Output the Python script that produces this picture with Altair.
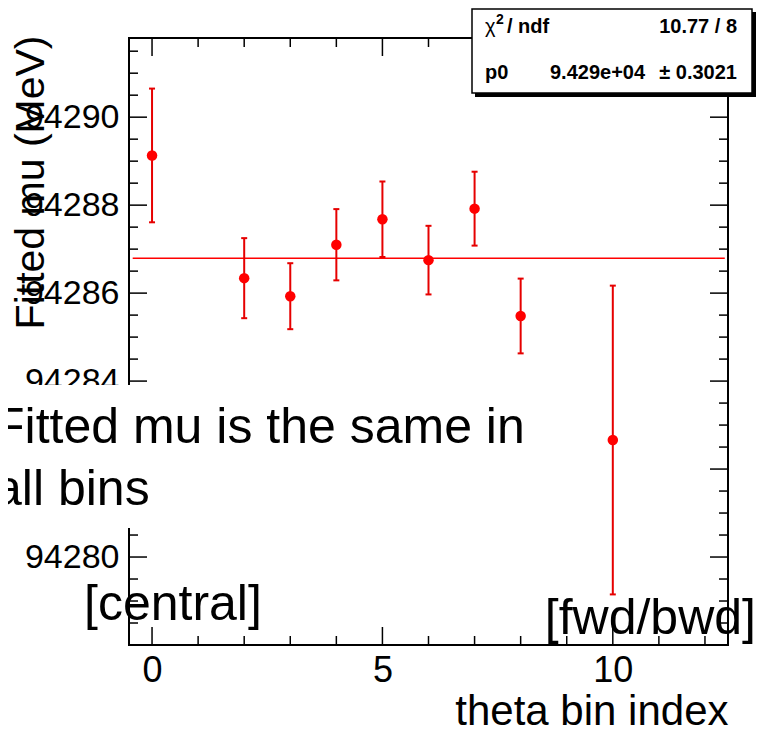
import altair as alt
import pandas as pd

# ---------------- data ----------------
bin_index = [0, 2, 3, 4, 5, 6, 7, 8, 10]
fitted_mu = [94289.13, 94286.34, 94285.93, 94287.10, 94287.68,
             94286.75, 94287.92, 94285.48, 94282.66]
mu_error = [1.52, 0.91, 0.75, 0.81, 0.86, 0.78, 0.84, 0.85, 3.51]

fit_p0 = 94286.79
fit_x_range = [-0.42, 12.43]

x_domain = [-0.5, 12.5]
y_domain = [94278.0, 94291.8]
x_label_values = [0, 5, 10]
y_label_values = [94280, 94282, 94284, 94286, 94288, 94290]
x_minor_ticks = [1, 2, 3, 4, 6, 7, 8, 9, 11, 12]
y_minor_ticks = [v for v in [94278.5 + 0.5 * i for i in range(27)]
                 if v not in y_label_values]

chi_symbol = "\u03c7"
chi_power = "2"
ndf_text = "/ ndf"
p0_label = "p0"
chi2_text = "10.77 / 8"
p0_value_text = "9.429e+04"
p0_error_text = "\u00b1 0.3021"
note_lines = ["Fitted mu is the same in", "all bins"]
region_labels = ["[central]", "[fwd/bwd]"]

# ---------------- layout ----------------
W, H = 599, 607
FONT = "Liberation Sans"
RED = "#ff0000"
MAJ, MIN = 18, 9

df = pd.DataFrame({"bin": bin_index, "mu": fitted_mu, "err": mu_error})
df["lo"] = df["mu"] - df["err"]
df["hi"] = df["mu"] + df["err"]
fit_df = pd.DataFrame({"x0": [fit_x_range[0]], "x1": [fit_x_range[1]], "p0": [fit_p0]})
one = pd.DataFrame({"d": [0]})

xs = alt.Scale(domain=x_domain, nice=False, zero=False)
ys = alt.Scale(domain=y_domain, nice=False, zero=False)

x_axis = alt.Axis(values=x_label_values, format="d", labelFontSize=36, labelFont=FONT,
                  labelColor="black", labelPadding=8, ticks=False, domain=False, grid=False,
                  labelOverlap=False, title="theta bin index", titleFontSize=42,
                  titleFont=FONT, titleFontWeight="normal", titleColor="black",
                  titleAnchor="end", titleAlign="right", titleBaseline="alphabetic",
                  titleX=W, titleY=79)
y_axis = alt.Axis(values=y_label_values, format="d", labelFontSize=34, labelFont=FONT,
                  labelColor="black", labelPadding=10, ticks=False, domain=False, grid=False,
                  labelOverlap=False, title="Fitted mu (MeV)", titleFontSize=41,
                  titleFont=FONT, titleFontWeight="normal", titleColor="black",
                  titleAngle=270, titleAlign="right", titleBaseline="alphabetic",
                  titleX=-86, titleY=-3)


def X(field):
    return alt.X(field, type="quantitative", scale=xs, axis=x_axis)


def Y(field):
    return alt.Y(field, type="quantitative", scale=ys, axis=y_axis)


def px_text(txt, x, y, size, align="left", weight="normal"):
    return alt.Chart(one).mark_text(
        text=txt, align=align, baseline="alphabetic", fontSize=size, font=FONT,
        fontWeight=weight, color="black"
    ).encode(x=alt.value(x), y=alt.value(y))


def px_rect(x1, x2, y1, y2, fill, stroke=None, sw=0, fill_opacity=1):
    kw = dict(fill=fill, fillOpacity=fill_opacity, strokeWidth=sw)
    if stroke:
        kw["stroke"] = stroke
    return alt.Chart(one).mark_rect(**kw).encode(
        x=alt.value(x1), x2=alt.value(x2), y=alt.value(y1), y2=alt.value(y2))


points = alt.Chart(df).mark_circle(size=110, color=RED, opacity=1).encode(
    x=X("bin"), y=Y("mu"))

# frame
frame = px_rect(0, W, 0, H, "white", stroke="black", sw=2, fill_opacity=0)

# inward ticks on all four sides
tick_layers = []
for vals, ln in [(y_label_values, MAJ), (y_minor_ticks, MIN)]:
    d = pd.DataFrame({"v": vals})
    tick_layers.append(alt.Chart(d).mark_rule(color="black", strokeWidth=1.5).encode(
        y=Y("v"), x=alt.value(0), x2=alt.value(ln)))
    tick_layers.append(alt.Chart(d).mark_rule(color="black", strokeWidth=1.5).encode(
        y=Y("v"), x=alt.value(W - ln), x2=alt.value(W)))
for vals, ln in [(x_label_values, MAJ), (x_minor_ticks, MIN)]:
    d = pd.DataFrame({"v": vals})
    tick_layers.append(alt.Chart(d).mark_rule(color="black", strokeWidth=1.5).encode(
        x=X("v"), y=alt.value(H - ln), y2=alt.value(H)))
    tick_layers.append(alt.Chart(d).mark_rule(color="black", strokeWidth=1.5).encode(
        x=X("v"), y=alt.value(0), y2=alt.value(ln)))

fit_line = alt.Chart(fit_df).mark_rule(color=RED, strokeWidth=1.5).encode(
    x=X("x0"), x2="x1", y=Y("p0"))

err_rule = alt.Chart(df).mark_rule(color="#e60000", strokeWidth=2).encode(
    x=X("bin"), y=Y("lo"), y2="hi")
cap_lo = alt.Chart(df).mark_tick(orient="horizontal", size=6, thickness=2, color="#e60000",
                                 opacity=1).encode(x=X("bin"), y=Y("lo"))
cap_hi = alt.Chart(df).mark_tick(orient="horizontal", size=6, thickness=2, color="#e60000",
                                 opacity=1).encode(x=X("bin"), y=Y("hi"))

# white note box and its text
note_box = px_rect(-140, 416, 347, 490, "white")
note1 = px_text(note_lines[0], -135, 405, 50)
note2 = px_text(note_lines[1], -135, 467, 50)
central = px_text(region_labels[0], -45, 582, 50)
fwdbwd = px_text(region_labels[1], 627, 596, 50, align="right")

# stats box
shadow = px_rect(346, 627, -26, 59, "black")
stats_box = px_rect(343, 623, -29, 55, "white", stroke="black", sw=1.5)
s_chi = px_text(chi_symbol, 356, -5, 20)
s_pow = px_text(chi_power, 367, -14, 14, weight="bold")
s_ndf = px_text(ndf_text, 378, -5, 20, weight="bold")
s2 = px_text(chi2_text, 608, -5, 20, align="right", weight="bold")
s3 = px_text(p0_label, 356, 41, 20, weight="bold")
s4 = px_text(p0_value_text, 421, 41, 20, weight="bold")
s5 = px_text(p0_error_text, 608, 41, 20, align="right", weight="bold")

chart = alt.layer(
    frame, *tick_layers, fit_line, err_rule, cap_lo, cap_hi, points,
    note_box, note1, note2, central, fwdbwd,
    shadow, stats_box, s_chi, s_pow, s_ndf, s2, s3, s4, s5,
).properties(
    width=W, height=H,
    autosize=alt.AutoSizeParams(type="none"),
    padding={"left": 121, "top": 30, "right": 29, "bottom": 82},
    background="white",
).configure_view(stroke=None)

chart.save("out.html", embed_options={"renderer": "svg", "actions": False})
